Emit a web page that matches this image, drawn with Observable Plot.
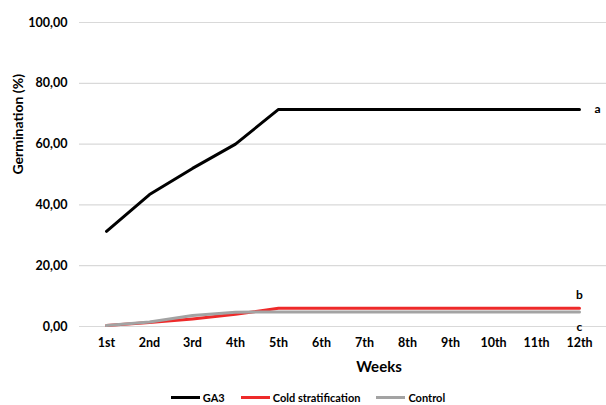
<!DOCTYPE html>
<html><head><meta charset="utf-8">
<script src="https://cdn.jsdelivr.net/npm/d3@7"></script>
<script src="https://cdn.jsdelivr.net/npm/@observablehq/plot@0.6"></script>
<style>
body{margin:0;background:#fff;font-family:Lato,"Open Sans",sans-serif;}
#legend{display:flex;justify-content:center;align-items:center;height:15px;font-size:11px;font-weight:bold;color:#000;padding-left:10px}
.item{display:flex;align-items:center;margin:0 8px}
.sw{display:inline-block;width:29px;height:3px;margin-right:3px}
</style></head>
<body><div id="chart"></div><div id="legend"></div>
<script>
const weeks = ["1st","2nd","3rd","4th","5th","6th","7th","8th","9th","10th","11th","12th"];
const ga3 = [31.3, 43.4, 52.0, 60.0, 71.4, 71.4, 71.4, 71.4, 71.4, 71.4, 71.4, 71.4];
const cold = [0.3, 1.3, 2.5, 4.0, 6.0, 6.0, 6.0, 6.0, 6.0, 6.0, 6.0, 6.0];
const control = [0.3, 1.5, 3.6, 4.7, 4.8, 4.8, 4.8, 4.8, 4.8, 4.8, 4.8, 4.8];
const seriesNames = ["GA3","Cold stratification","Control"];
const seriesColors = ["#000000","#ee2a2a","#a3a3a3"];
const yTicks = [0,20,40,60,80,100];
const letters = ["a","b","c"];
const letterY = [71.4, 10.2, -0.3];

const rows = [];
[ga3, cold, control].forEach((arr, si) => arr.forEach((v, i) => rows.push({week: weeks[i], value: v, series: seriesNames[si]})));
const lab = letters.map((l, i) => ({label: l, y: letterY[i]}));

const plot = Plot.plot({
  width: 606, height: 390,
  marginLeft: 79, marginRight: 0, marginTop: 22, marginBottom: 64,
  style: {fontFamily: "Lato, 'Open Sans', sans-serif", fontSize: "12px", fontWeight: "bold", color: "#000"},
  x: {type: "point", domain: weeks, padding: 0.5, label: null},
  y: {domain: [0, 100], ticks: yTicks, label: null},
  color: {domain: seriesNames, range: seriesColors},
  marks: [
    Plot.gridY(yTicks, {stroke: "#d9d9d9", strokeOpacity: 1, strokeWidth: 1.2}),
    Plot.axisY(yTicks, {tickSize: 0, tickPadding: 12, tickFormat: d => d.toFixed(2).replace(".", ","), fontSize: 12.5, fontWeight: "bold", label: null}),
    Plot.axisX({tickSize: 0, tickPadding: 12, fontSize: 12.5, fontWeight: "bold", label: null}),
    Plot.text(["Weeks"], {frameAnchor: "bottom", dy: 45, fontSize: 15, fontWeight: "bold", dx: 36}),
    Plot.text(["Germination (%)"], {frameAnchor: "left", rotate: -90, dx: -61, fontSize: 14, fontWeight: "bold"}),
    Plot.line(rows, {x: "week", y: "value", z: "series", stroke: "series", strokeWidth: 3, curve: "linear"}),
    Plot.text(lab.slice(0,1), {x: () => "12th", y: "y", text: "label", dx: 18, fontSize: 12, fontWeight: "bold"}),
    Plot.text(lab.slice(1), {x: () => "12th", y: "y", text: "label", fontSize: 12, fontWeight: "bold"})
  ]
});
document.getElementById("chart").appendChild(plot);
const lg = document.getElementById("legend");
seriesNames.forEach((n, i) => {
  const it = document.createElement("span"); it.className = "item";
  it.innerHTML = `<span class="sw" style="background:${seriesColors[i]}"></span>${n}`;
  lg.appendChild(it);
});
</script></body></html>
